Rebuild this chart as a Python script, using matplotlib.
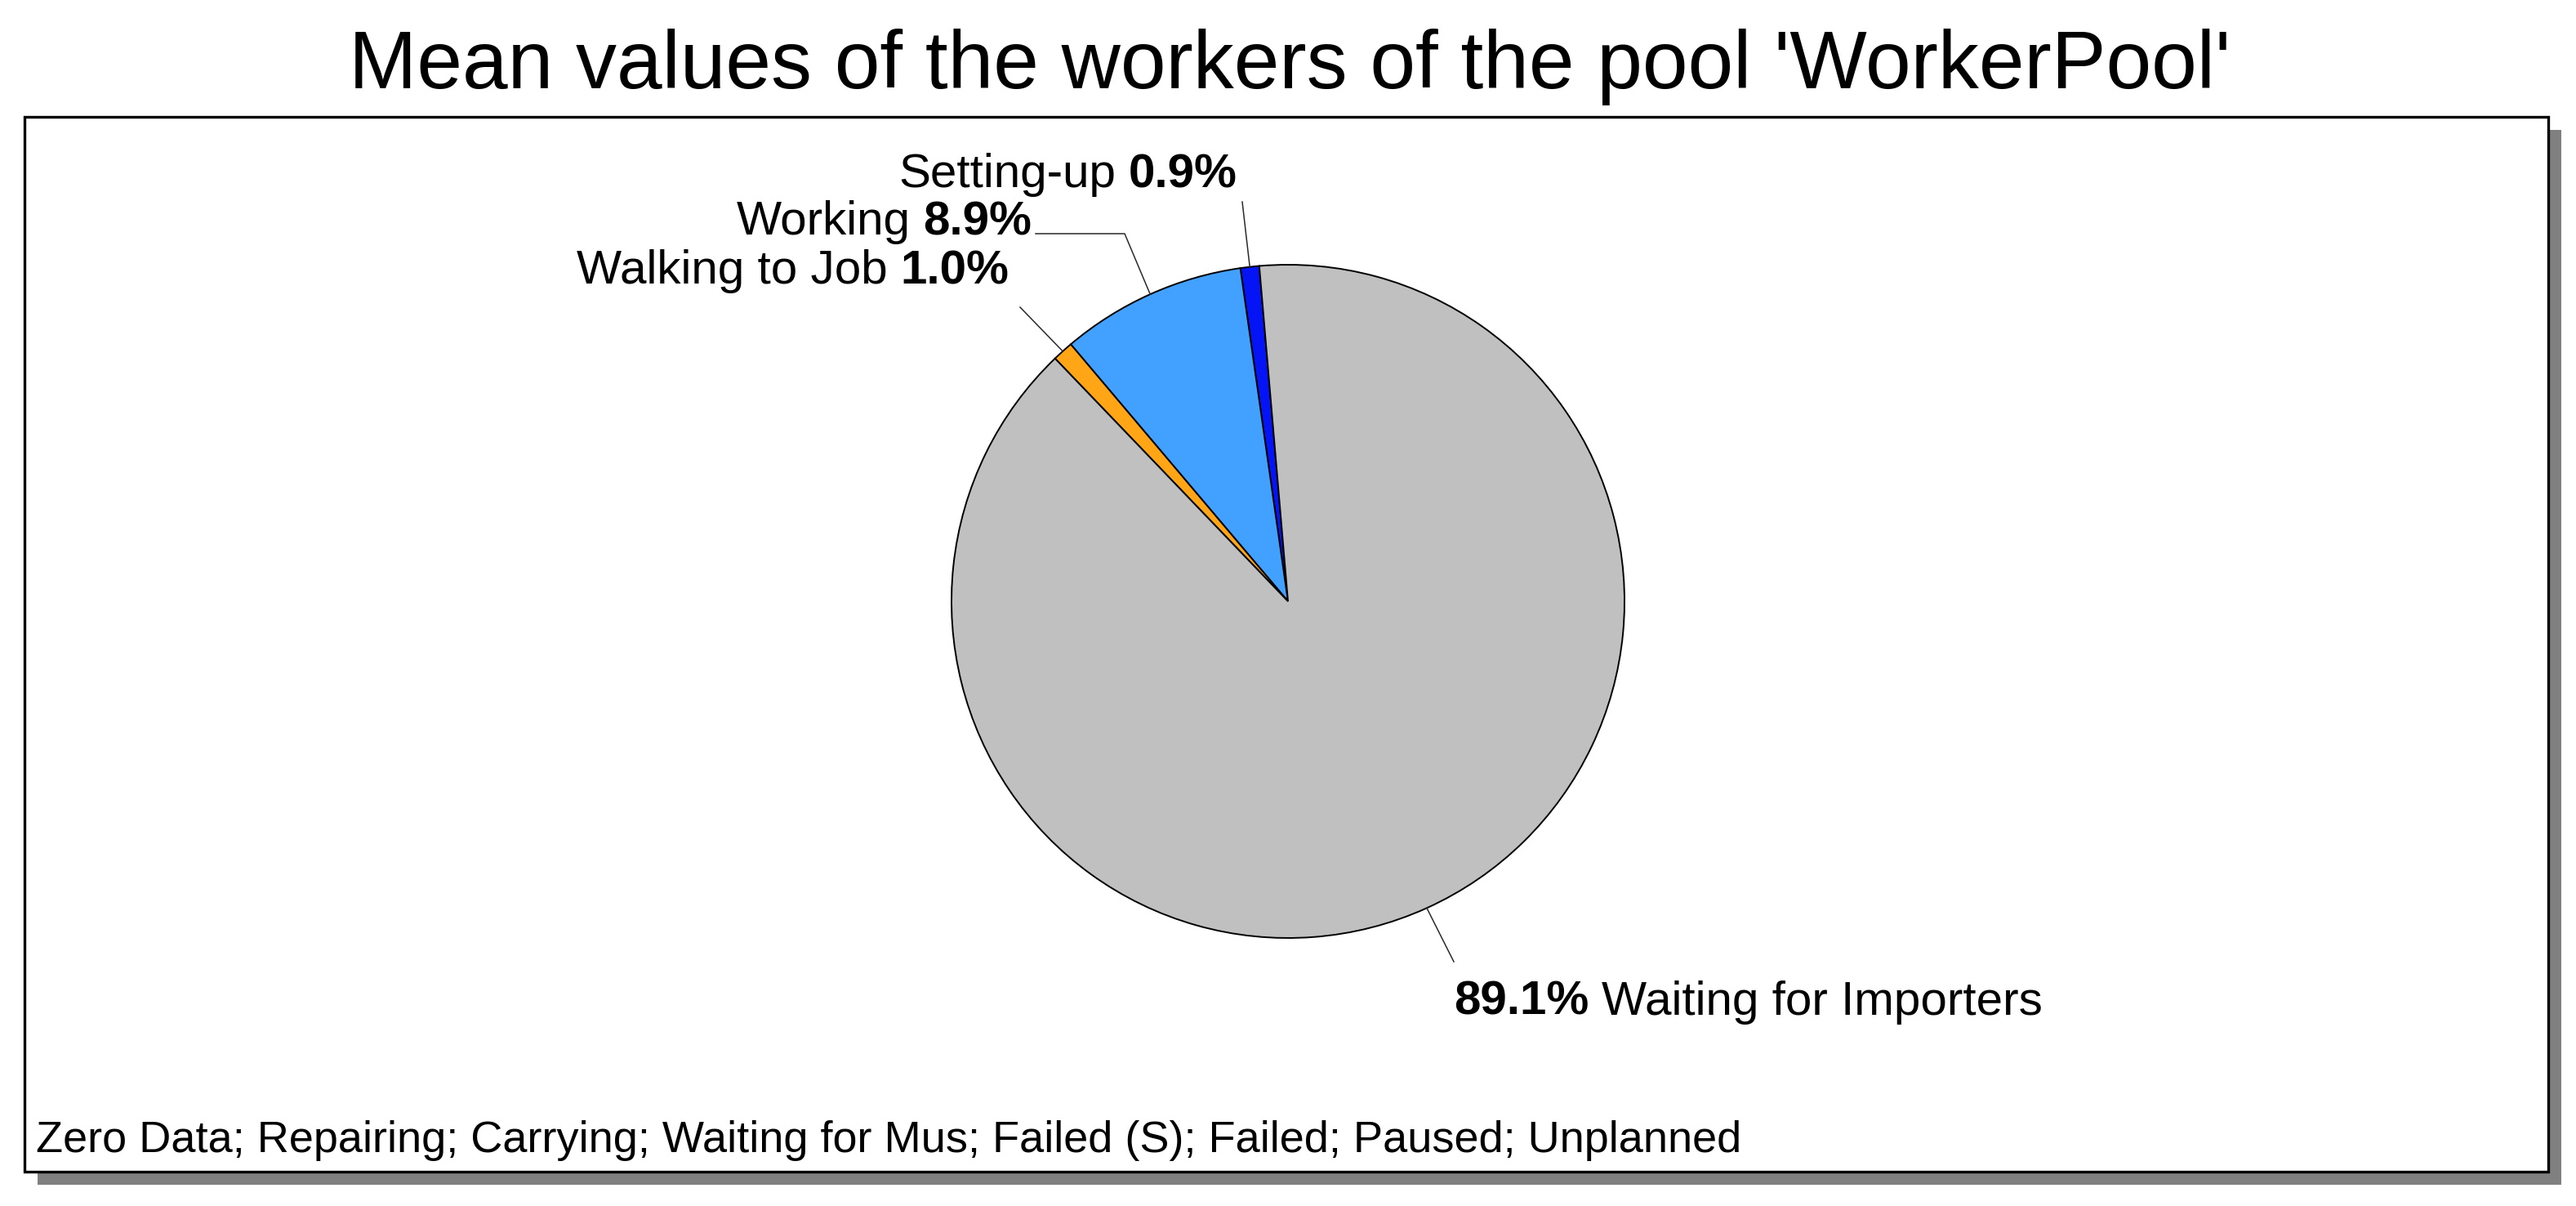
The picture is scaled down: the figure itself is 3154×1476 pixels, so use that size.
import numpy as np
import matplotlib.pyplot as plt
from matplotlib.patches import Rectangle

plt.rcParams['font.family'] = ['Liberation Sans', 'DejaVu Sans']

title = "Mean values of the workers of the pool 'WorkerPool'"
states = ['Setting-up', 'Working', 'Walking to Job', 'Waiting for Importers']
shares = [0.9, 8.9, 1.0, 89.1]
colors = ['#0514f5', '#42a0ff', '#ffa516', '#c0c0c0']
zero_states = ['Zero Data', 'Repairing', 'Carrying', 'Waiting for Mus',
               'Failed (S)', 'Failed', 'Paused', 'Unplanned']

W, H = 3154, 1476
fig = plt.figure(figsize=(W / 100, H / 100), dpi=100)
ax = fig.add_axes([0, 0, 1, 1])

# frame + drop shadow, axes units are pixels (y up)
ax.add_patch(Rectangle((46, 26), 3090, 1291, fc='#808080', ec='none', zorder=0))
ax.add_patch(Rectangle((30, 42), 3090, 1291, fc='white', ec='black', lw=2.4, zorder=1))

cx, cy, r = 1577, 740, 412
wedges, _ = ax.pie(shares, colors=colors, startangle=94.9, counterclock=True,
                   center=(cx, cy), radius=r,
                   wedgeprops=dict(edgecolor='black', linewidth=1.4, zorder=2))
ax.set_xlim(0, W)
ax.set_ylim(0, H)
ax.set_aspect('auto')
ax.axis('off')

fs = 42
gap = 11

# label anchor (x, baseline y), alignment, leader end points
label_pos = [(1515, 1247, 'right'), (1263, 1189, 'right'),
             (1235, 1129, 'right'), (1780, 234, 'left')]
leaders = [[(1521, 1229)], [(1377, 1190), (1268, 1190)],
           [(1249, 1100)], [(1780, 299)]]


def rich(x, y, parts, ha):
    if ha == 'right':
        parts = parts[::-1]
    s, b = parts[0]
    t = ax.text(x, y, s, fontsize=fs, fontweight='bold' if b else 'normal',
                ha=ha, va='baseline', zorder=5)
    for s, b in parts[1:]:
        if ha == 'right':
            t = ax.annotate(s, xy=(0, 0), xycoords=t, xytext=(-gap, 0),
                            textcoords='offset points', ha='right', va='bottom',
                            fontsize=fs, fontweight='bold' if b else 'normal')
        else:
            t = ax.annotate(s, xy=(1, 0), xycoords=t, xytext=(gap, 0),
                            textcoords='offset points', ha='left', va='bottom',
                            fontsize=fs, fontweight='bold' if b else 'normal')


for w, name, v, (lx, ly, ha), pts in zip(wedges, states, shares, label_pos, leaders):
    mid = np.deg2rad((w.theta1 + w.theta2) / 2)
    ex, ey = cx + r * np.cos(mid), cy + r * np.sin(mid)
    xs = [ex] + [p[0] for p in pts]
    ys = [ey] + [p[1] for p in pts]
    ax.plot(xs, ys, color='#2a2a2a', lw=1.1, zorder=3)
    pct = f'{v:.1f}%'
    if ha == 'right':
        rich(lx, ly, [(name, False), (pct, True)], ha)
    else:
        rich(lx, ly, [(pct, True), (name, False)], ha)

ax.text(44, 66, '; '.join(zero_states), fontsize=39, ha='left', va='baseline')
ax.text(1579, 1368, title, fontsize=72, ha='center', va='baseline')

fig.savefig('out.png', dpi=100)
